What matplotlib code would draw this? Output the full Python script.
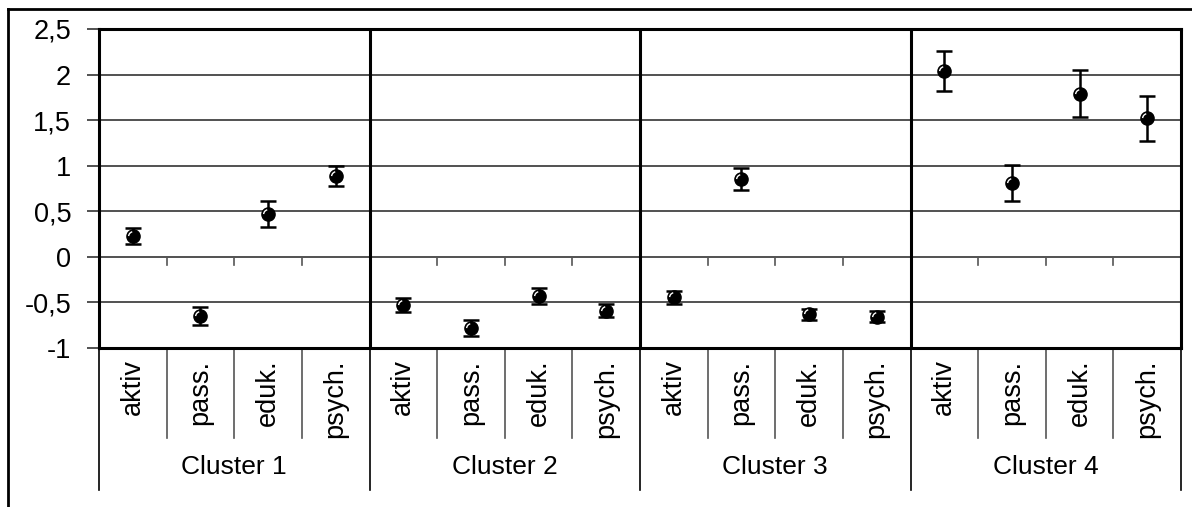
import matplotlib.pyplot as plt
from matplotlib.lines import Line2D
from matplotlib.path import Path
import numpy as np

plt.rcParams['font.family'] = ['Liberation Sans', 'DejaVu Sans']

clusters = ['Cluster 1', 'Cluster 2', 'Cluster 3', 'Cluster 4']
categories = ['aktiv', 'pass.', 'eduk.', 'psych.']

# means and error half-widths, per cluster in category order
means = [0.23, -0.65, 0.47, 0.89,
         -0.53, -0.78, -0.43, -0.59,
         -0.445, 0.85, -0.63, -0.655,
         2.04, 0.81, 1.79, 1.52]
errs = [0.09, 0.10, 0.14, 0.11,
        0.075, 0.09, 0.09, 0.07,
        0.075, 0.12, 0.06, 0.065,
        0.22, 0.20, 0.26, 0.25]
yticks = [-1, -0.5, 0, 0.5, 1, 1.5, 2, 2.5]
ytick_labels = ['-1', '-0,5', '0', '0,5', '1', '1,5', '2', '2,5']

W, H = 1192, 507
fig = plt.figure(figsize=(W / 100, H / 100), dpi=100)
ax = fig.add_axes([99 / W, 1 - 348 / H, (1181 - 99) / W, (348 - 29) / H])

n_cat = len(categories)
n = len(clusters) * n_cat
x = np.arange(n) + 0.5

ax.set_xlim(0, n)
ax.set_ylim(-1, 2.5)

# gridlines
for yv in yticks[1:-1]:
    ax.axhline(yv, color='#333333', lw=1.2, zorder=1)

# cluster separators
for k in range(1, len(clusters)):
    ax.axvline(k * n_cat, color='black', lw=2.2, zorder=2)

# tick marks on the zero line
for i in range(1, n):
    if i % n_cat:
        ax.plot([i, i], [0, -0.09], color='#555555', lw=1.2, zorder=2)

ax.errorbar(x, means, yerr=errs, fmt='o', color='black', ms=9.5,
            elinewidth=1.8, capsize=6, capthick=1.8, zorder=4)
# white shine arc on the upper left of each marker
shine = Path.arc(105, 175)
ax.plot(x, means, linestyle='none', marker=shine, ms=7, mfc='none',
        mec='white', mew=1.0, zorder=5)

for s in ax.spines.values():
    s.set_linewidth(2.2)

ax.set_yticks(yticks)
ax.set_yticklabels(ytick_labels, fontsize=19.5)
ax.tick_params(axis='y', length=9, width=1.2, color='#333333', pad=11)
ax.set_xticks([])

trans = ax.get_xaxis_transform()
# category table below the plot
for i in range(n + 1):
    bottom = -0.445 if i % n_cat == 0 else -0.282
    col = 'black' if i % n_cat == 0 else '#555555'
    ax.plot([i, i], [0, bottom], color=col, lw=1.2, transform=trans, clip_on=False)
for i in range(n):
    ax.text(x[i], -0.036, categories[i % n_cat], rotation=90, ha='center',
            va='top', fontsize=19.5, transform=trans)
for k, name in enumerate(clusters):
    ax.text(k * n_cat + n_cat / 2, -0.373, name, ha='center', va='center',
            fontsize=19, transform=trans)

# outer frame
fig.add_artist(Line2D([8 / W, 8 / W], [0, 1 - 9 / H], color='black', lw=2,
                      transform=fig.transFigure))
fig.add_artist(Line2D([8 / W, 1], [1 - 9 / H, 1 - 9 / H], color='black', lw=2,
                      transform=fig.transFigure))

fig.savefig('out.png', dpi=100)
